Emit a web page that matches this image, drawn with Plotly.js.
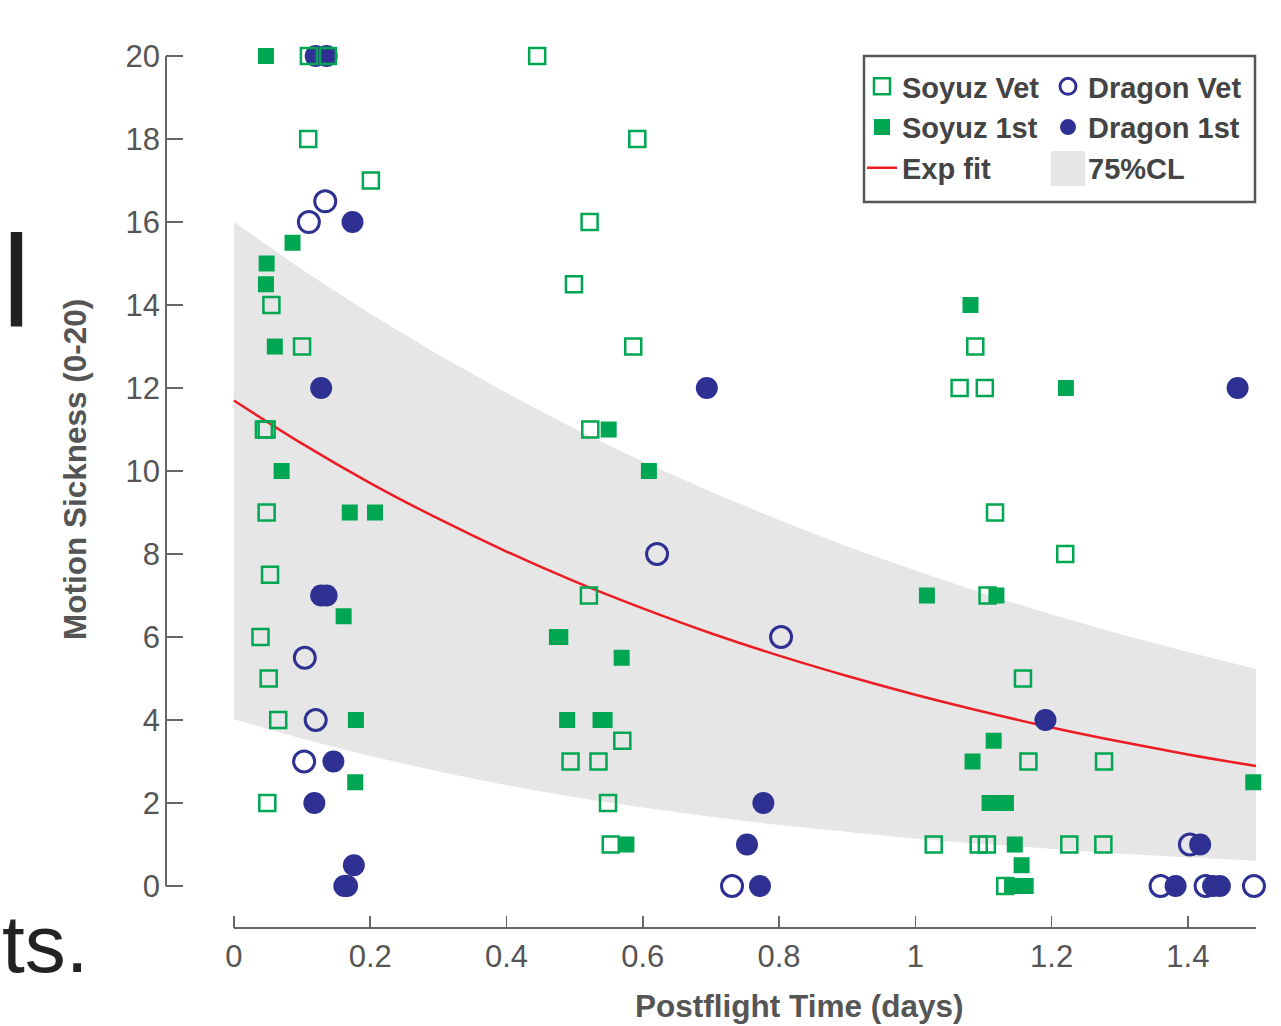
<!DOCTYPE html>
<html>
<head>
<meta charset="utf-8">
<script src="https://cdn.plot.ly/plotly-3.0.1.min.js"></script>
<style>html,body{margin:0;padding:0;background:#fff;}</style>
</head>
<body>
<div id="chart" style="width:1281px;height:1026px;"></div>
<script>
// ---- Data ----
const soyuzVetX = [0.110, 0.138, 0.109, 0.201, 0.055, 0.100, 0.044, 0.048, 0.048, 0.053, 0.039, 0.051, 0.065, 0.049,
                   0.445, 0.592, 0.522, 0.499, 0.586, 0.523, 0.521, 0.570, 0.494, 0.535, 0.549, 0.553,
                   1.088, 1.065, 1.102, 1.117, 1.220, 1.106, 1.158, 1.166, 1.277, 1.027, 1.093, 1.105, 1.226, 1.276, 1.132];
const soyuzVetY = [20, 20, 18, 17, 14, 13, 11, 11, 9, 7.5, 6, 5, 4, 2,
                   20, 18, 16, 14.5, 13, 11, 7, 3.5, 3, 3, 2, 1,
                   13, 12, 12, 9, 8, 7, 5, 3, 3, 1, 1, 1, 1, 1, 0];

const soyuzFirstX = [0.047, 0.086, 0.048, 0.047, 0.060, 0.070, 0.170, 0.207, 0.161, 0.179, 0.178,
                     0.550, 0.609, 0.474, 0.479, 0.569, 0.489, 0.538, 0.544, 0.576,
                     1.081, 1.221, 1.017, 1.119, 1.115, 1.084, 1.109, 1.121, 1.133, 1.496, 1.146, 1.156, 1.142, 1.162];
const soyuzFirstY = [20, 15.5, 15, 14.5, 13, 10, 9, 9, 6.5, 4, 2.5,
                     11, 10, 6, 6, 5.5, 4, 4, 4, 1,
                     14, 12, 7, 7, 3.5, 3, 2, 2, 2, 2.5, 1, 0.5, 0, 0];

const dragonVetX = [0.134, 0.110, 0.104, 0.120, 0.103, 0.621, 0.803, 0.731, 1.403, 1.360, 1.426, 1.497];
const dragonVetY = [16.5, 16, 5.5, 4, 3, 8, 6, 0, 1, 0, 0, 0];

const dragonFirstX = [0.120, 0.136, 0.174, 0.128, 0.128, 0.136, 0.146, 0.118, 0.176, 0.162, 0.166,
                      0.694, 0.777, 0.753, 0.772, 1.191, 1.473, 1.418, 1.382, 1.437, 1.447];
const dragonFirstY = [20, 20, 16, 12, 7, 7, 3, 2, 0.5, 0, 0,
                      12, 2, 1, 0, 4, 12, 1, 0, 0, 0];

// exponential fit and 75% confidence band
const curveX  = [0, 0.1, 0.2, 0.3, 0.4, 0.5, 0.6, 0.7, 0.8, 0.9, 1.0, 1.1, 1.2, 1.3, 1.4, 1.5];
const fitY    = [11.70, 10.66, 9.71, 8.85, 8.06, 7.34, 6.69, 6.09, 5.55, 5.06, 4.61, 4.20, 3.82, 3.48, 3.17, 2.89];
const upperY  = [16.00, 14.85, 13.79, 12.80, 11.88, 11.02, 10.23, 9.50, 8.82, 8.18, 7.60, 7.05, 6.54, 6.07, 5.64, 5.23];
const lowerY  = [4.02, 3.55, 3.13, 2.76, 2.43, 2.14, 1.89, 1.67, 1.47, 1.30, 1.14, 1.01, 0.89, 0.78, 0.69, 0.61];

const xTickVals = [0, 0.2, 0.4, 0.6, 0.8, 1.0, 1.2, 1.4];
const xTickText = ['0', '0.2', '0.4', '0.6', '0.8', '1', '1.2', '1.4'];
const yTickVals = [0, 2, 4, 6, 8, 10, 12, 14, 16, 18, 20];
const yTickText = ['0', '2', '4', '6', '8', '10', '12', '14', '16', '18', '20'];

// ---- Styles ----
const FONT = 'Liberation Sans, Arial, Helvetica, sans-serif';
const GREEN = '#00a651';
const BLUE = '#2e3192';
const RED = '#ed1c24';
const BAND = '#e6e6e6';
const AXIS = '#666666';
const TXT = '#555555';

const traces = [
  {x: curveX, y: lowerY, type: 'scatter', mode: 'lines', line: {width: 0, color: BAND},
   showlegend: false, hoverinfo: 'skip'},
  {x: curveX, y: upperY, type: 'scatter', mode: 'lines', line: {width: 0, color: BAND},
   fill: 'tonexty', fillcolor: BAND, showlegend: false, hoverinfo: 'skip'},
  {x: curveX, y: fitY, type: 'scatter', mode: 'lines', line: {width: 2.5, color: RED, shape: 'spline'},
   name: 'Exp fit', legend: 'legend', legendrank: 3},
  {x: dragonVetX, y: dragonVetY, type: 'scatter', mode: 'markers', name: 'Dragon Vet', legend: 'legend2', legendrank: 1,
   cliponaxis: false,
   marker: {symbol: 'circle-open', size: 21, color: BLUE, line: {width: 3, color: BLUE}}},
  {x: dragonFirstX, y: dragonFirstY, type: 'scatter', mode: 'markers', name: 'Dragon 1st', legend: 'legend2', legendrank: 2,
   cliponaxis: false,
   marker: {symbol: 'circle', size: 22, color: BLUE, line: {width: 0}}},
  {x: soyuzVetX, y: soyuzVetY, type: 'scatter', mode: 'markers', name: 'Soyuz Vet', legend: 'legend', legendrank: 1,
   cliponaxis: false,
   marker: {symbol: 'square-open', size: 16, color: GREEN, line: {width: 2.5, color: GREEN}}},
  {x: soyuzFirstX, y: soyuzFirstY, type: 'scatter', mode: 'markers', name: 'Soyuz 1st', legend: 'legend', legendrank: 2,
   cliponaxis: false,
   marker: {symbol: 'square', size: 16, color: GREEN, line: {width: 0}}},
  // legend entry for the confidence band (no data marks of its own)
  {x: [null], y: [null], type: 'scatter', mode: 'markers', name: '75%CL', legend: 'legend2', legendrank: 3,
   marker: {symbol: 'square', size: 16, color: BAND, line: {width: 0}}, hoverinfo: 'skip'}
];

// plot area: x 166..1256 px, y 40..928 px
const W = 1281, H = 1026, ML = 166, MR = 25, MT = 40, MB = 98;
const PW = W - ML - MR, PH = H - MT - MB;
const px2x = p => (p - ML) / PW;
const py2y = p => (H - MB - p) / PH;

const legendFont = {family: FONT, size: 29, color: '#444444', weight: 700};

const layout = {
  width: W, height: H,
  margin: {l: ML, r: MR, t: MT, b: MB, pad: 0},
  paper_bgcolor: '#ffffff', plot_bgcolor: '#ffffff',
  font: {family: FONT, color: TXT},
  xaxis: {
    range: [-0.0997, 1.5], showgrid: false, zeroline: false, showline: false,
    ticks: 'inside', ticklen: 12, tickwidth: 1.5, tickcolor: AXIS,
    tickvals: xTickVals, ticktext: xTickText, ticklabelstandoff: 7,
    tickfont: {family: FONT, size: 31, color: TXT}
  },
  yaxis: {
    range: [-1.012, 20.386], showgrid: false, zeroline: false, showline: false,
    ticks: 'inside', ticklen: 17, tickwidth: 1.5, tickcolor: AXIS,
    tickvals: yTickVals, ticktext: yTickText,
    tickfont: {family: FONT, size: 31, color: TXT}, ticklabelstandoff: 5
  },
  legend: {x: px2x(862), y: py2y(61), xanchor: 'left', yanchor: 'top', traceorder: 'normal',
           bgcolor: 'rgba(0,0,0,0)', borderwidth: 0, font: legendFont, itemclick: false, itemdoubleclick: false},
  legend2: {x: px2x(1048), y: py2y(61), xanchor: 'left', yanchor: 'top', traceorder: 'normal',
           bgcolor: 'rgba(0,0,0,0)', borderwidth: 0, font: legendFont, itemclick: false, itemdoubleclick: false},
  shapes: [
    {type: 'line', xref: 'x', yref: 'paper', x0: 0, x1: 1.5, y0: 0, y1: 0, line: {color: AXIS, width: 2}, layer: 'below'},
    {type: 'line', xref: 'paper', yref: 'y', x0: 0, x1: 0, y0: 0, y1: 20, line: {color: AXIS, width: 2}, layer: 'below'},
    {type: 'rect', xref: 'paper', yref: 'paper', x0: px2x(864), x1: px2x(1255), y0: py2y(202), y1: py2y(56),
     line: {color: '#555555', width: 2.5}, fillcolor: '#ffffff', layer: 'below'},
    // larger swatch for the 75%CL legend entry
    {type: 'rect', xref: 'paper', yref: 'paper', x0: px2x(1051), x1: px2x(1085), y0: py2y(186), y1: py2y(151),
     line: {width: 0}, fillcolor: BAND, layer: 'above'}
  ],
  annotations: [
    {text: '<b>Postflight Time (days)</b>', xref: 'paper', yref: 'paper', x: px2x(799), y: py2y(1006),
     xanchor: 'center', yanchor: 'middle', showarrow: false, font: {family: FONT, size: 31.5, color: TXT}},
    {text: '<b>Motion Sickness (0-20)</b>', xref: 'paper', yref: 'paper', x: px2x(75), y: py2y(470),
     xanchor: 'center', yanchor: 'middle', textangle: -90, showarrow: false, font: {family: FONT, size: 31.5, color: TXT}},
    {text: 'ts.', xref: 'paper', yref: 'paper', x: px2x(0), y: py2y(943),
     xanchor: 'left', yanchor: 'middle', showarrow: false, font: {family: FONT, size: 82, color: '#222222'}},
    {text: 'l', xref: 'paper', yref: 'paper', x: px2x(0), y: py2y(281),
     xanchor: 'left', yanchor: 'middle', showarrow: false, font: {family: FONT, size: 130, color: '#222222'}}
  ]
};

Plotly.newPlot('chart', traces, layout, {displayModeBar: false, staticPlot: true});
</script>
</body>
</html>
